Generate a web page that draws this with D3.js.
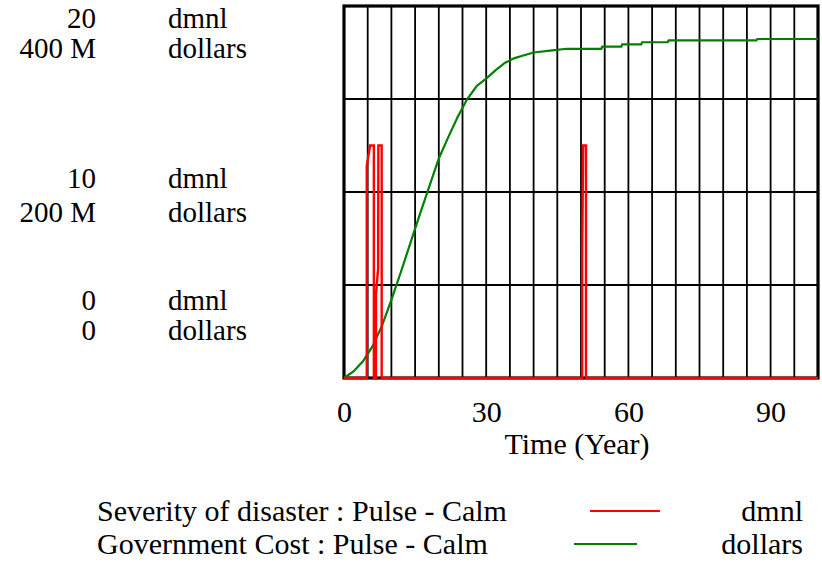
<!DOCTYPE html>
<html>
<head>
<meta charset="utf-8">
<script src="https://cdn.jsdelivr.net/npm/d3@7"></script>
</head>
<body style="margin:0">
<svg id="chart" width="822" height="571" font-family="Liberation Serif"></svg>
<script>
// Simulation output: time in years
const timeDomain = [0, 100];
const timeTicks = [0, 30, 60, 90];

// Severity of disaster : Pulse - Calm (dmnl)
const severityTime  = [0, 4.8, 4.8, 5.5, 6.3, 6.3, 6.75, 6.75, 7.2, 7.25, 7.95, 7.95, 50.25, 50.25, 50.45, 51.05, 51.05, 100];
const severityValue = [0, 0, 11.4, 12.5, 12.5, 0, 0, 4.5, 5.9, 12.5, 12.5, 0, 0, 6.4, 12.5, 12.5, 0, 0];

// Government Cost : Pulse - Calm (millions of dollars)
const costTime  = [0, 2, 4, 6, 8, 10, 12, 14, 16, 18, 20, 22, 24, 26, 28, 30, 32, 34, 36, 38, 40, 43.5, 47, 54.3, 54.5, 58.5, 58.7, 62.7, 62.9, 68.3, 68.5, 87, 87.2, 100];
const costValue = [0, 7, 18, 34, 56, 84, 114, 145, 176, 206, 236, 259, 281, 300, 314, 322, 331, 339, 344, 347, 350, 352, 354, 354, 356.3, 356.3, 358.8, 358.8, 361, 361, 363.1, 363.1, 364.5, 364.5];

// Left-hand scale labels: value and unit for each series
const dmnlTicks = ["20", "10", "0"];
const dollarTicks = ["400 M", "200 M", "0"];

const legendNames = ["Severity of disaster : Pulse - Calm", "Government Cost : Pulse - Calm"];
const legendUnits = ["dmnl", "dollars"];
const seriesColors = ["#ff0000", "#008000"];

const FONT = 30;
const SCALE_FONT = 29;
const FAMILY = "Liberation Serif";

const svg = d3.select("#chart");

const plot = { left: 344, right: 818, top: 6, bottom: 378 };

const x = d3.scaleLinear().domain(timeDomain).range([plot.left, plot.right]);
const yDmnl = d3.scaleLinear().domain([0, 20]).range([plot.bottom, plot.top]);
const yDollars = d3.scaleLinear().domain([0, 400]).range([plot.bottom, plot.top]);

function label(sel, str, size = FONT) {
  return sel.append("text")
    .attr("font-family", FAMILY)
    .attr("font-size", size)
    .style("font-family", `'${FAMILY}'`, "important")
    .attr("fill", "#000")
    .text(str);
}

// grid
const grid = svg.append("g").attr("stroke", "#000").attr("stroke-width", 1.8);
grid.selectAll("line.v")
  .data(d3.range(5, 100, 5))
  .join("line")
  .attr("class", "v")
  .attr("x1", d => x(d)).attr("x2", d => x(d))
  .attr("y1", plot.top).attr("y2", plot.bottom);
grid.selectAll("line.h")
  .data([100, 200, 300])
  .join("line")
  .attr("class", "h")
  .attr("x1", plot.left).attr("x2", plot.right)
  .attr("y1", d => yDollars(d)).attr("y2", d => yDollars(d));

// frame
svg.append("rect")
  .attr("x", plot.left).attr("y", plot.top)
  .attr("width", plot.right - plot.left).attr("height", plot.bottom - plot.top)
  .attr("fill", "none").attr("stroke", "#000").attr("stroke-width", 3.2);

// series
const costLine = d3.line()
  .x((d, i) => x(costTime[i]))
  .y(d => yDollars(d));
svg.append("path")
  .attr("d", costLine(costValue))
  .attr("fill", "none").attr("stroke", seriesColors[1]).attr("stroke-width", 2.2);

const sevLine = d3.line()
  .x((d, i) => x(severityTime[i]))
  .y(d => yDmnl(d));
svg.append("path")
  .attr("d", sevLine(severityValue))
  .attr("fill", "none").attr("stroke", seriesColors[0]).attr("stroke-width", 2.4)
  .attr("stroke-linejoin", "miter");

// left-hand labels
const labelRows = [
  { y: 28, i: 0, kind: "dmnl" }, { y: 58, i: 0, kind: "dollars" },
  { y: 188, i: 1, kind: "dmnl" }, { y: 222, i: 1, kind: "dollars" },
  { y: 310, i: 2, kind: "dmnl" }, { y: 340, i: 2, kind: "dollars" }
];
const lab = svg.append("g");
labelRows.forEach(r => {
  label(lab, r.kind === "dmnl" ? dmnlTicks[r.i] : dollarTicks[r.i], SCALE_FONT)
    .attr("x", 96).attr("y", r.y).attr("text-anchor", "end");
  label(lab, r.kind, SCALE_FONT).attr("x", 168).attr("y", r.y);
});

// time axis
const xAxis = d3.axisBottom(x).tickValues(timeTicks).tickSize(0).tickPadding(0).tickFormat(d3.format("d"));
const xg = svg.append("g").attr("transform", `translate(0,${plot.bottom})`).call(xAxis);
xg.attr("font-family", FAMILY).attr("font-size", FONT);
xg.select(".domain").remove();
xg.selectAll("text")
  .style("font-family", `'${FAMILY}'`, "important")
  .attr("fill", "#000")
  .attr("dy", null)
  .attr("y", 44);

label(svg, "Time (Year)")
  .attr("x", (plot.left + plot.right) / 2 - 4).attr("y", 454)
  .attr("text-anchor", "middle");

// legend
const legendY = [521, 554];
const legendLine = [[590, 660], [574, 637]];
legendNames.forEach((name, i) => {
  label(svg, name).attr("x", 97).attr("y", legendY[i]);
  svg.append("line")
    .attr("x1", legendLine[i][0]).attr("x2", legendLine[i][1])
    .attr("y1", legendY[i] - 10).attr("y2", legendY[i] - 10)
    .attr("stroke", seriesColors[i]).attr("stroke-width", 2);
  label(svg, legendUnits[i]).attr("x", 803).attr("y", legendY[i])
    .attr("text-anchor", "end");
});
</script>
</body>
</html>
